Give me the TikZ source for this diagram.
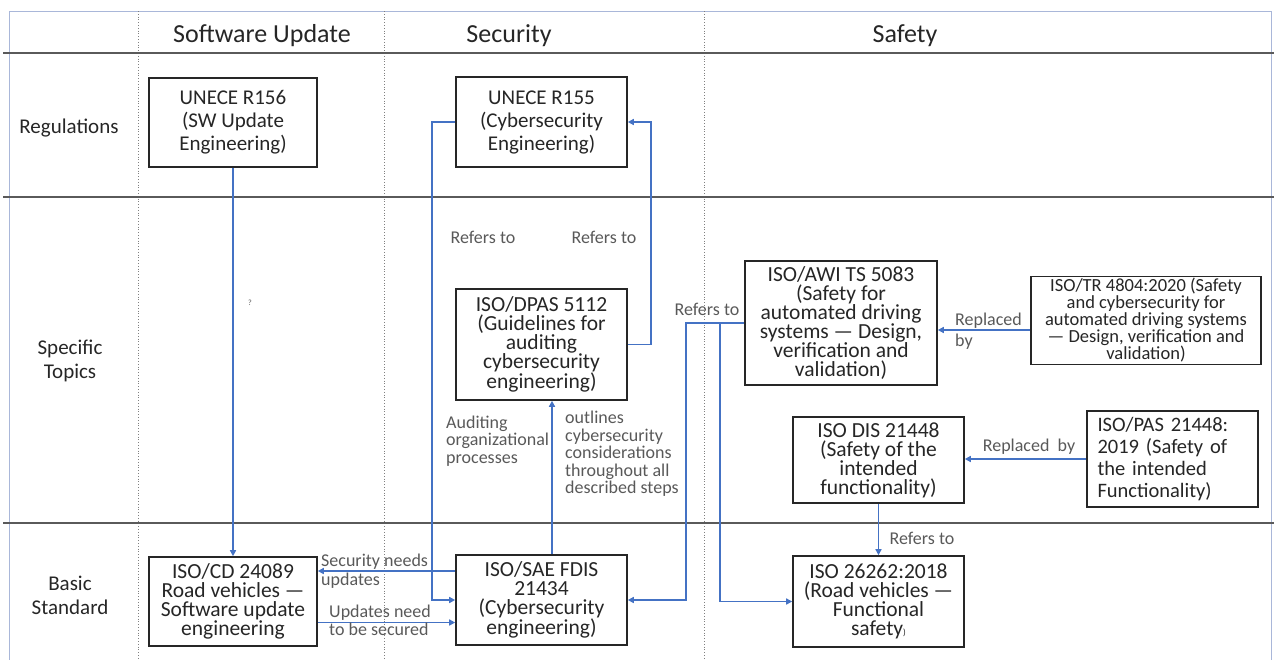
\documentclass[tikz,border=0pt]{standalone}
\usepackage{fontspec}
\setmainfont{Carlito}
\usetikzlibrary{arrows.meta}
\definecolor{conncol}{HTML}{4472C4}
\definecolor{boxcol}{HTML}{262626}
\definecolor{labcol}{HTML}{595959}
\definecolor{gridcol}{HTML}{5A5A5A}
\definecolor{framecol}{HTML}{A9B7D9}
\definecolor{dotcol}{HTML}{808080}
\tikzset{
  bx/.style={draw=boxcol, line width=1.6pt, fill=white, text=boxcol, align=center, inner sep=2pt,
    font=\fontsize{21.5}{19}\selectfont},
  conn/.style={draw=conncol, line width=1.5pt, -{Triangle[length=6pt,width=6pt]}},
  lab/.style={text=labcol, inner sep=0pt, font=\fontsize{18}{17.5}\selectfont},
  hdr/.style={text=boxcol, inner sep=0pt, font=\fontsize{26}{28}\selectfont},
  rowlab/.style={text=boxcol, inner sep=0pt, align=center, font=\fontsize{21}{24}\selectfont},
  gridline/.style={draw=gridcol, line width=1.8pt},
  dotline/.style={draw=dotcol, line width=0.8pt, dotted},
  frameline/.style={draw=framecol, line width=1pt}
}
\begin{document}
\begin{tikzpicture}[x=1pt,y=-1pt]
\useasboundingbox (0,0) rectangle (1274,659);
% frame and grid
\draw[frameline] (9,660) -- (9,11) -- (1271,11) -- (1271,660);
\draw[dotline] (138,11) -- (138,659);
\draw[dotline] (384,11) -- (384,659);
\draw[dotline] (704,11) -- (704,659);
\draw[gridline] (3,53) -- (1274,53);
\draw[gridline] (3,197) -- (1274,197);
\draw[gridline] (3,523) -- (1274,523);
% headers
\node[hdr] (hsw) at (262,35.5) {Software Update};
\node[hdr] (hsec) at (509,35.5) {Security};
\node[hdr] (hsaf) at (905,35.5) {Safety};
\node[rowlab] (rreg) at (69,128) {Regulations};
\node[rowlab] (rspec) at (70,361) {Specific\\Topics};
\node[rowlab] (rbas) at (70,595.5) {Basic\\Standard};
% boxes
\node[bx, minimum width=168, minimum height=89, font=\fontsize{21}{23}\selectfont] (r156) at (233,122.5) {UNECE R156\\(SW Update\\Engineering)};
\node[bx, minimum width=171, minimum height=90, font=\fontsize{21}{23}\selectfont] (r155) at (541.5,122) {UNECE R155\\(Cybersecurity\\Engineering)};
\node[bx, minimum width=171, minimum height=111] (dpas) at (541.5,344.5) {ISO/DPAS 5112\\(Guidelines for\\auditing\\cybersecurity\\engineering)};
\node[bx, minimum width=192, minimum height=124] (awi) at (841,323) {ISO/AWI TS 5083\\(Safety for\\automated driving\\systems — Design,\\verification and\\validation)};
\node[bx, minimum width=230, minimum height=88, font=\fontsize{18.5}{17}\selectfont] (tr) at (1146,320.5) {ISO/TR 4804:2020 (Safety\\and cybersecurity for\\automated driving systems\\— Design, verification and\\validation)};
\node[bx, minimum width=171, minimum height=86] (dis) at (878.5,460) {ISO DIS 21448\\(Safety of the\\intended\\functionality)};
\node[bx, minimum width=171, minimum height=96, text width=150, align=left, font=\fontsize{20.5}{22}\selectfont] (pas) at (1172.5,459) {ISO/PAS 21448:\\2019 (Safety of\\the intended\\Functionality)};
\node[bx, minimum width=168, minimum height=89] (cd) at (233,601.5) {ISO/CD 24089\\Road vehicles —\\Software update\\engineering};
\node[bx, minimum width=171, minimum height=90] (fdis) at (541.5,600) {ISO/SAE FDIS\\21434\\(Cybersecurity\\engineering)};
\node[bx, minimum width=171, minimum height=91] (iso262) at (878.5,601.5) {ISO 26262:2018\\(Road vehicles —\\Functional\\safety{\fontsize{9}{9}\selectfont)}};
% connectors
\draw[conn] (r156.south) -- (cd.north);
\draw[conn] (r155.west) -- ++(-23,0) |- (fdis.west);
\draw[conn] (dpas.east) -- ++(23,0) |- (r155.east);
\draw[conn] ([xshift=10.5pt]fdis.north) -- ([xshift=10.5pt]dpas.south);
\coordinate (awij) at (720,323);
\draw[conn] (awi.west) -- (686,323) |- (fdis.east);
\draw[conn] (awij) |- (iso262.west);
\draw[conn] ([yshift=-9.5pt]tr.west) -- ([yshift=-9.5pt]tr.west -| awi.east);
\draw[conn] (pas.west) -- (pas.west -| dis.east);
\draw[conn] (dis.south) -- (iso262.north);
\draw[conn] ([yshift=29pt]fdis.west) -- ([yshift=29pt]fdis.west -| cd.east);
\draw[conn] ([yshift=-21pt]cd.east) -- ([yshift=-21pt]cd.east -| fdis.west);
% labels
\node[lab] (lref1) at (483,237) {Refers to};
\node[lab] (lref2) at (604,237) {Refers to};
\node[lab, font=\fontsize{8}{8}\selectfont] (lq) at (250,303) {?};
\node[lab, anchor=west, align=left] (laud) at (446,441) {Auditing\\organizational\\processes};
\node[lab, anchor=west, align=left] (lout) at (565,454) {outlines\\cybersecurity\\considerations\\throughout all\\described steps};
\node[lab] (lref3) at (707,309) {Refers to};
\node[lab, anchor=west, align=left, font=\fontsize{18}{21}\selectfont] (lrep1) at (955,331) {Replaced\\by};
\node[lab] (lrep2) at (1029,447) {Replaced~ by};
\node[lab] (lref4) at (922,538) {Refers to};
\node[lab, anchor=west, align=left, font=\fontsize{18}{19}\selectfont] (lsec) at (321,571.5) {Security needs\\updates};
\node[lab, anchor=west, align=left] (lupd) at (329,620.5) {Updates need\\to be secured};
\end{tikzpicture}
\end{document}
